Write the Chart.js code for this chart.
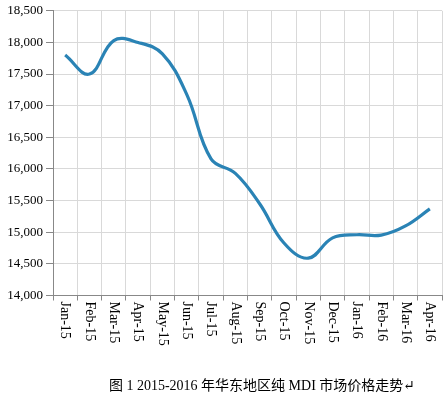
<!DOCTYPE html>
<html>
<head>
<meta charset="utf-8">
<script src="https://cdn.jsdelivr.net/npm/chart.js@4"></script>
<style>
    html, body { margin: 0; padding: 0; background: #fff; }
    #box { width: 446px; height: 399px; position: relative; }
</style>
</head>
<body>
<div id="box"><canvas id="chartMdi"></canvas></div>
<script>
const months = ['Jan-15', 'Feb-15', 'Mar-15', 'Apr-15', 'May-15', 'Jun-15', 'Jul-15', 'Aug-15',
    'Sep-15', 'Oct-15', 'Nov-15', 'Dec-15', 'Jan-16', 'Feb-16', 'Mar-16', 'Apr-16'];
const prices = [17800, 17500, 18030, 18000, 17820, 17180, 16160, 15930,
    15450, 14830, 14590, 14910, 14960, 14955, 15100, 15370];
const yMin = 14000;
const yMax = 18500;
const yStep = 500;
const caption = '图 1 2015-2016 年华东地区纯 MDI 市场价格走势↵';

const serif = "'Liberation Serif', 'DejaVu Serif', serif";

// x labels read top to bottom, so draw them ourselves
const rotatedLabels = {
    id: 'rotatedLabels',
    afterDraw(chart) {
        const ctx = chart.ctx;
        const xScale = chart.scales.x;
        ctx.save();
        ctx.font = "14px " + serif;
        ctx.fillStyle = '#000';
        ctx.textAlign = 'left';
        ctx.textBaseline = 'middle';
        months.forEach((m, i) => {
            const x = xScale.getPixelForValue(i);
            ctx.save();
            ctx.translate(x, chart.chartArea.bottom + 6);
            ctx.rotate(Math.PI / 2);
            ctx.fillText(m, 0, 0);
            ctx.restore();
        });
        ctx.font = "14px " + serif + ", 'Noto Sans CJK SC'";
        ctx.textAlign = 'center';
        ctx.fillText(caption, 262, 386);
        ctx.restore();
    }
};

const ctxMdi = document.getElementById('chartMdi');
new Chart(ctxMdi, {
    type: 'line',
    data: {
        labels: months,
        datasets: [{
            data: prices,
            borderColor: '#2a83b5',
            borderWidth: 3.2,
            tension: 0.4,
            pointRadius: 0,
            fill: false
        }]
    },
    options: {
        responsive: true,
        maintainAspectRatio: false,
        animation: false,
        layout: {
            autoPadding: false,
            padding: { top: 9.5, right: 4, left: 0, bottom: 0 }
        },
        plugins: {
            legend: { display: false },
            tooltip: { enabled: false }
        },
        scales: {
            x: {
                offset: true,
                grid: {
                    offset: true,
                    color: '#d9d9d9',
                    tickColor: '#888',
                    tickLength: 5
                },
                border: { color: '#888' },
                ticks: { display: false },
                afterFit(scale) { scale.height = 103.5; }
            },
            y: {
                min: yMin,
                max: yMax,
                grid: {
                    color: '#d9d9d9',
                    tickColor: '#888',
                    tickLength: 7
                },
                border: { color: '#888' },
                ticks: {
                    stepSize: yStep,
                    color: '#000',
                    padding: 3,
                    font: { family: serif, size: 13 },
                    callback: v => v.toLocaleString('en-US')
                },
                afterFit(scale) { scale.width = 53; }
            }
        }
    },
    plugins: [rotatedLabels]
});
</script>
</body>
</html>
